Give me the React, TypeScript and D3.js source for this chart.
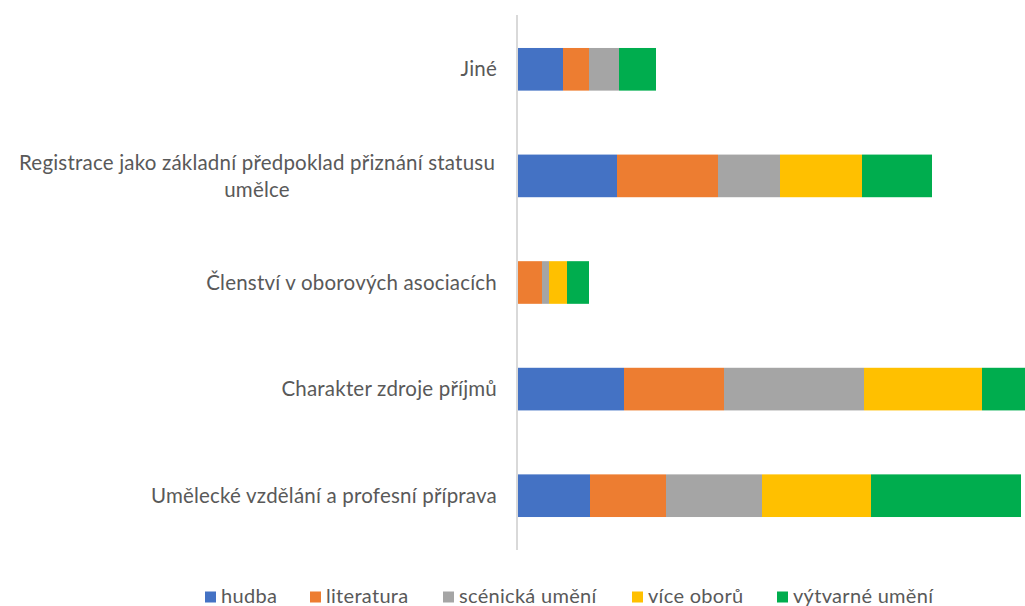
import React from "react";
import * as d3 from "d3";

const categories = [
  "Jiné",
  "Registrace jako základní předpoklad přiznání statusu umělce",
  "Členství v oborových asociacích",
  "Charakter zdroje příjmů",
  "Umělecké vzdělání a profesní příprava",
];
const labelLines = [
  ["Jiné"],
  ["Registrace jako základní předpoklad přiznání statusu", "umělce"],
  ["Členství v oborových asociacích"],
  ["Charakter zdroje příjmů"],
  ["Umělecké vzdělání a profesní příprava"],
];
const seriesNames = ["hudba", "literatura", "scénická umění", "více oborů", "výtvarné umění"];
const hudba = [46, 100, 0, 107, 73];
const literatura = [26, 101, 25, 100, 76];
const scenicka = [30, 62, 7, 140, 96];
const viceOboru = [0, 82, 18, 118, 109];
const vytvarne = [37, 70, 22, 60, 150];
const colors = ["#4472C4", "#ED7D31", "#A5A5A5", "#FFC000", "#00AD4E"];

export default function App() {
  const W = 1025, H = 606;
  const x0 = 517;
  const rows = categories.map((c, i) => ({
    cat: c,
    hudba: hudba[i],
    literatura: literatura[i],
    scenicka: scenicka[i],
    vice: viceOboru[i],
    vytvarne: vytvarne[i],
  }));
  const keys = ["hudba", "literatura", "scenicka", "vice", "vytvarne"];
  const stacked = d3.stack<any>().keys(keys)(rows);
  const x = d3.scaleLinear().domain([0, 500]).range([x0, x0 + 500]);
  const y = d3.scaleBand().domain(categories).range([16, 549]).paddingInner(0.6).paddingOuter(0.3);

  const legendX = [205, 310, 443, 632, 777];

  return (
    <svg width={W} height={H} style={{ position: "absolute", left: 0, top: 0, background: "#fff" }}
      fontFamily="Lato, 'Open Sans', sans-serif">
      {stacked.map((s, si) => (
        <g key={si} fill={colors[si]}>
          {s.map((d, i) => (
            d[1] - d[0] > 0 ? (
              <rect key={i} x={x(d[0])} y={y(categories[i])!} width={x(d[1]) - x(d[0])} height={y.bandwidth()} />
            ) : null
          ))}
        </g>
      ))}
      <line x1={x0} x2={x0} y1={15} y2={550} stroke="#d9d9d9" strokeWidth={2} />
      {labelLines.map((lines, i) => {
        const cy = y(categories[i])! + y.bandwidth() / 2;
        const lh = 27;
        const start = cy - ((lines.length - 1) * lh) / 2;
        return lines.map((t, j) => (
          <text key={i + "-" + j} x={lines.length > 1 ? 257 : 497} y={start + j * lh} dy="0.35em"
            textAnchor={lines.length > 1 ? "middle" : "end"}
            fontSize={20.5} letterSpacing={0.2} fill="#595959">{t}</text>
        ));
      })}
      {seriesNames.map((n, i) => (
        <g key={n}>
          <rect x={legendX[i]} y={591.5} width={11} height={11} fill={colors[i]} />
          <text x={legendX[i] + 16} y={603} fontSize={20} letterSpacing={0.3} fill="#595959">{n}</text>
        </g>
      ))}
    </svg>
  );
}
